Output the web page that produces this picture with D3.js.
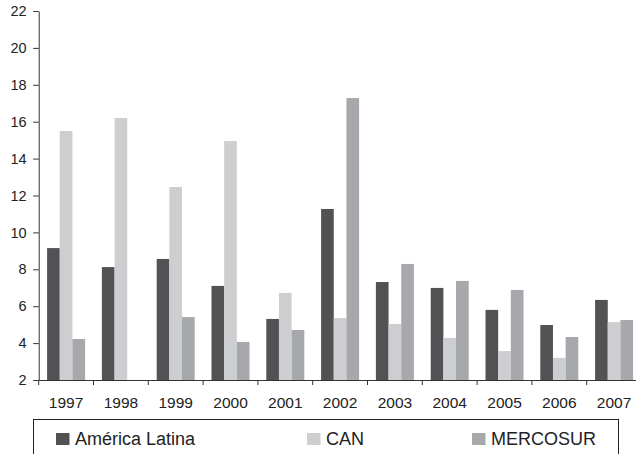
<!DOCTYPE html>
<html>
<head>
<meta charset="utf-8">
<script src="https://cdn.jsdelivr.net/npm/d3@7"></script>
<style>
  body { margin: 0; background: #fff; }
  svg { display: block; font-family: "Liberation Sans", Arial, sans-serif; }
</style>
</head>
<body>
<svg width="636" height="454"></svg>
<script>
(function () {
  'use strict';

  var years = ["1997", "1998", "1999", "2000", "2001", "2002", "2003", "2004", "2005", "2006", "2007"];
  var seriesNames = ["América Latina", "CAN", "MERCOSUR"];
  var americaLatina = [9.15, 8.12, 8.56, 7.1, 5.31, 11.27, 7.31, 6.99, 5.8, 4.98, 6.34];
  var can = [15.5, 16.2, 12.46, 14.95, 6.72, 5.36, 5.04, 4.28, 3.57, 3.2, 5.14];
  var mercosur = [4.22, null, 5.41, 4.06, 4.71, 17.28, 8.29, 7.37, 6.88, 4.33, 5.25];
  var yTicks = [2, 4, 6, 8, 10, 12, 14, 16, 18, 20, 22];

  var colors = ["#525254", "#cdced0", "#a7a8ab"];
  var values = [americaLatina, can, mercosur];
  var font = "'Liberation Sans', Arial, sans-serif";

  var svg = d3.select("svg");

  var x = d3.scaleBand()
      .domain(years)
      .range([38.7, 641.5])
      .padding(0);

  var x1 = d3.scaleBand()
      .domain(seriesNames)
      .range([8.4, x.bandwidth() - 8.4])
      .padding(0);

  var y = d3.scaleLinear()
      .domain([2, 22])
      .range([380, 11]);

  var color = d3.scaleOrdinal(seriesNames, colors);

  var data = [];
  years.forEach(function (yr, i) {
    seriesNames.forEach(function (s, j) {
      if (values[j][i] != null) data.push({ year: yr, series: s, value: values[j][i] });
    });
  });

  // bars
  svg.append("g")
    .selectAll("rect")
    .data(data)
    .enter().append("rect")
      .attr("x", function (d) { return x(d.year) + x1(d.series); })
      .attr("y", function (d) { return y(d.value); })
      .attr("width", x1.bandwidth())
      .attr("height", function (d) { return y(2) - y(d.value); })
      .attr("fill", function (d) { return color(d.series); });

  // y axis
  var yAxis = svg.append("g")
      .attr("transform", "translate(" + x.range()[0] + ",0)")
      .call(d3.axisLeft(y).tickValues(yTicks).tickSize(5.5).tickSizeOuter(0).tickPadding(6.5));
  yAxis.attr("font-family", font).attr("font-size", 14.5);
  yAxis.selectAll("text").attr("fill", "#222");
  yAxis.selectAll("line, path").attr("stroke", "#333");

  // x axis
  var xAxis = svg.append("g")
      .attr("transform", "translate(0," + y(2) + ")")
      .call(d3.axisBottom(x).tickSize(0).tickSizeOuter(0).tickPadding(17));
  xAxis.attr("font-family", font).attr("font-size", 15.5);
  xAxis.selectAll("text").attr("fill", "#222");
  xAxis.select("path").attr("stroke", "#333");

  xAxis.selectAll(".sep")
    .data(years)
    .enter().append("line")
      .attr("class", "sep")
      .attr("x1", function (d) { return x(d); })
      .attr("x2", function (d) { return x(d); })
      .attr("y1", 0)
      .attr("y2", 5)
      .attr("stroke", "#333");

  // legend
  svg.append("rect")
      .attr("x", 33.5)
      .attr("y", 419.5)
      .attr("width", 585)
      .attr("height", 60)
      .attr("fill", "none")
      .attr("stroke", "#222")
      .attr("stroke-width", 1);

  var legendX = [56, 307, 472];
  var legend = svg.append("g")
    .selectAll("g")
    .data(seriesNames)
    .enter().append("g")
      .attr("transform", function (d, i) { return "translate(" + legendX[i] + ",433)"; });

  legend.append("rect")
      .attr("width", 13.5)
      .attr("height", 12)
      .attr("fill", function (d) { return color(d); });

  legend.append("text")
      .attr("x", 19)
      .attr("y", 12)
      .attr("font-size", "18px")
      .attr("fill", "#222")
      .text(function (d) { return d; });
}());
</script>
</body>
</html>
